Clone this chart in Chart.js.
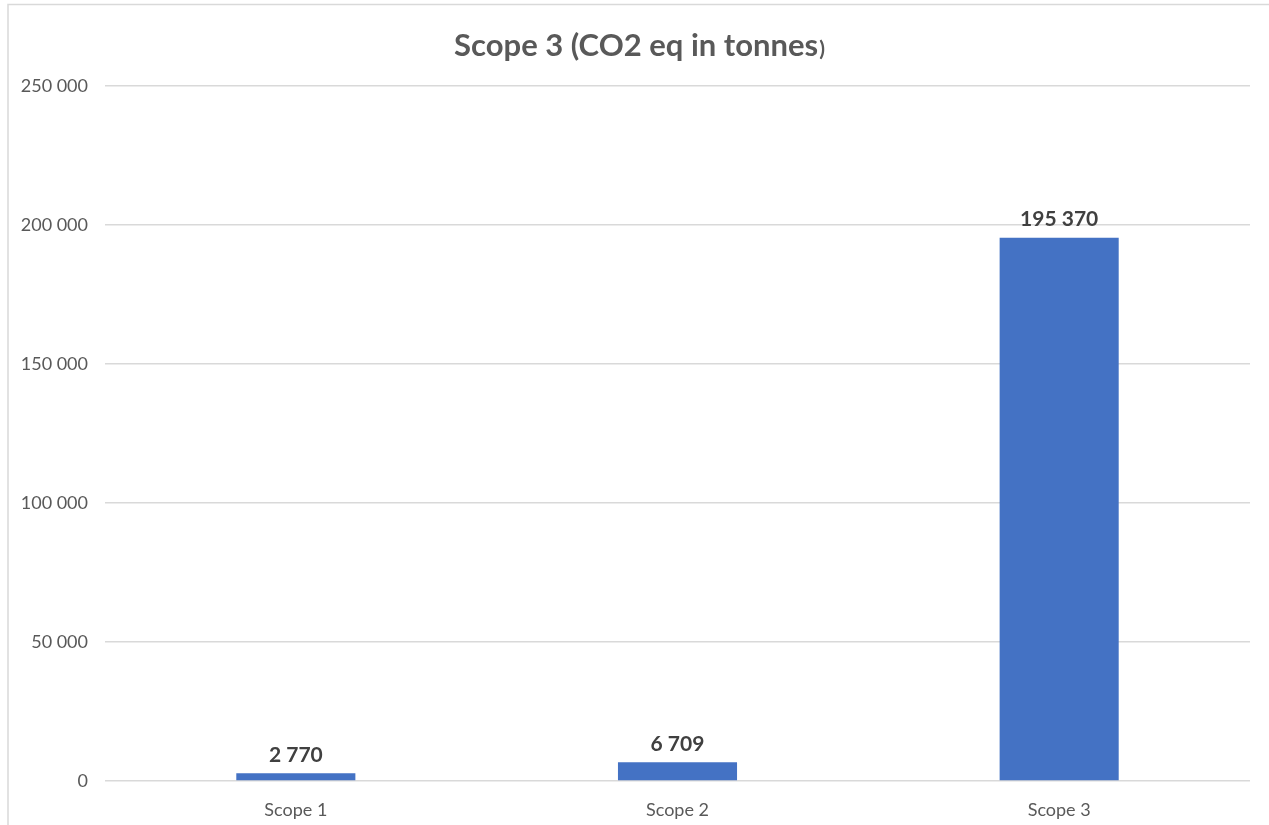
<!DOCTYPE html>
<html>
<head>
<meta charset="utf-8">
<script src="https://cdn.jsdelivr.net/npm/chart.js@4/dist/chart.umd.min.js"></script>
<style>
  html, body { margin: 0; padding: 0; background: #fff; }
  #wrap { position: relative; width: 1269px; height: 825px; }
</style>
</head>
<body>
<div id="wrap"><canvas id="chart"></canvas></div>
<script>
const categories = ['Scope 1', 'Scope 2', 'Scope 3'];
const emissions = [2770, 6709, 195370];
const yTicks = [0, 50000, 100000, 150000, 200000, 250000];

const FONT = 'Lato, "Open Sans", sans-serif';

// 195370 -> "195 370"
function spaced(n) {
    return String(Math.round(n)).replace(/\B(?=(\d{3})+(?!\d))/g, ' ');
}

// title with a smaller closing parenthesis, plus the thin outer frame
const decorPlugin = {
    id: 'decor',
    afterDraw(chart) {
        const ctx = chart.ctx;
        ctx.save();
        ctx.strokeStyle = '#d9d9d9';
        ctx.lineWidth = 1.5;
        ctx.beginPath();
        ctx.moveTo(8, 825);
        ctx.lineTo(8, 4.5);
        ctx.lineTo(1269, 4.5);
        ctx.stroke();

        const main = 'Scope 3 (CO2 eq in tonnes';
        const tail = ')';
        ctx.fillStyle = '#595959';
        ctx.textBaseline = 'alphabetic';
        ctx.font = 'bold 31px ' + FONT;
        const w1 = ctx.measureText(main).width;
        ctx.font = 'bold 21px ' + FONT;
        const w2 = ctx.measureText(tail).width;
        const x0 = 639 - (w1 + w2) / 2;
        ctx.font = 'bold 31px ' + FONT;
        ctx.textAlign = 'left';
        ctx.fillText(main, x0, 56);
        ctx.font = 'bold 21px ' + FONT;
        ctx.fillText(tail, x0 + w1 + 1, 56);
        ctx.restore();
    }
};

// value labels above each bar
const valueLabels = {
    id: 'valueLabels',
    afterDatasetsDraw(chart) {
        const ctx = chart.ctx;
        const meta = chart.getDatasetMeta(0);
        ctx.save();
        ctx.font = 'bold 21px ' + FONT;
        ctx.fillStyle = '#404040';
        ctx.textAlign = 'center';
        ctx.textBaseline = 'bottom';
        meta.data.forEach((bar, i) => {
            ctx.fillText(spaced(emissions[i]), bar.x, bar.y - 8);
        });
        ctx.restore();
    }
};

new Chart(document.getElementById('chart'), {
    type: 'bar',
    data: {
        labels: categories,
        datasets: [{
            data: emissions,
            backgroundColor: '#4472C4',
            barPercentage: 0.312,
            categoryPercentage: 1
        }]
    },
    options: {
        responsive: true,
        maintainAspectRatio: false,
        animation: false,
        layout: { padding: { top: 86, right: 19, bottom: 0, left: 0 } },
        plugins: {
            legend: { display: false },
            title: { display: false },
            tooltip: { enabled: false }
        },
        scales: {
            x: {
                grid: { display: false },
                border: { display: false },
                ticks: {
                    color: '#595959',
                    padding: 10,
                    font: { family: FONT, size: 18 }
                },
                afterFit(axis) { axis.height = 44; }
            },
            y: {
                min: 0,
                max: 250000,
                afterBuildTicks(axis) {
                    axis.ticks = yTicks.map(v => ({ value: v }));
                },
                grid: { color: '#d9d9d9', lineWidth: 1.5, drawTicks: false },
                border: { display: false },
                ticks: {
                    color: '#595959',
                    padding: 17,
                    font: { family: FONT, size: 18 },
                    callback: v => spaced(v)
                },
                afterFit(axis) { axis.width = 105; }
            }
        }
    },
    plugins: [decorPlugin, valueLabels]
});
</script>
</body>
</html>
